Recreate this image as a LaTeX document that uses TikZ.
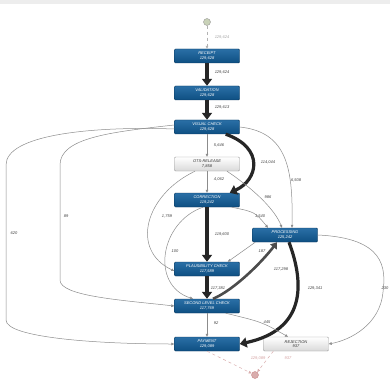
\documentclass[tikz,border=0pt]{standalone}
\usepackage{fontspec}
\setmainfont{Liberation Sans}
\usetikzlibrary{arrows.meta,shapes.geometric}
\definecolor{boxblue}{HTML}{0E4F82}
\definecolor{boxblueL}{HTML}{2A6FA6}
\definecolor{pinkend}{HTML}{C98A8A}
\definecolor{startc}{HTML}{C9D2B8}
\tikzset{
  act/.style={draw=boxblue!70!black, top color=boxblueL, bottom color=boxblue, rounded corners=1pt,
    minimum width=65pt, minimum height=14pt, inner sep=0pt, text=white,
    font=\fontsize{4}{4.6}\selectfont\itshape, align=center},
  gact/.style={act, draw=black!40, top color=white, bottom color=black!15, text=black!80},
  thin/.style={draw=black!45, line width=0.5pt, -{Triangle[length=3pt,width=2.6pt]}},
  thick/.style={draw=black!85, line width=3.2pt, -{Triangle[length=7pt,width=10pt]}},
  mid/.style={draw=black!70, line width=2.6pt, -{Triangle[length=6pt,width=8pt]}},
  lab/.style={font=\fontsize{4}{4}\selectfont\itshape, text=black!75, inner sep=0.5pt},
  flab/.style={lab, text=black!35},
  plab/.style={lab, text=pinkend!80},
}
\begin{document}
\begin{tikzpicture}[x=1pt,y=-1pt]
\path[fill=white] (0,0) rectangle (390,390);
\fill[black!7] (0,0) rectangle (390,4);
% nodes
\node[circle, draw=black!40, fill=startc, minimum size=7pt, inner sep=0pt] (start) at (207,22) {};
\node[circle, draw=pinkend, fill=pinkend!70, minimum size=7pt, inner sep=0pt] (end) at (255,375) {};
\node[act] (rec) at (207,56) {RECEIPT\\129,628};
\node[act] (val) at (207,93) {VALIDATION\\129,628};
\node[act] (vis) at (207,127) {VISUAL CHECK\\129,628};
\node[gact] (ots) at (207,164) {OTS-RELEASE\\7,858};
\node[act] (cor) at (207,200) {CORRECTION\\119,242};
\node[act] (pro) at (285,235) {PROCESSING\\125,242};
\node[act] (pla) at (207,269) {PLAUSIBILITY CHECK\\117,589};
\node[act] (sec) at (207,306) {SECOND LEVEL CHECK\\117,769};
\node[act] (pay) at (207,344) {PAYMENT\\129,089};
\node[gact] (rej) at (296,344) {REJECTION\\937};
% start / end
\draw[thin, dashed, draw=black!30] (start) -- (rec);
\node[flab] (l0) at (222,37) {129,624};
\draw[thin, dashed, draw=pinkend!70] (pay.south) -- (end);
\draw[thin, dashed, draw=pinkend!70] (rej.south west) ++(10,0) -- (end);
\node[plab] (l1) at (258,358) {129,089};
\node[plab] (l2) at (288,358) {937};
% main thick flow
\draw[thick] (rec) -- (val);
\node[lab] (l3) at (222,72) {129,624};
\draw[thick] (val) -- (vis);
\node[lab] (l4) at (222,107) {129,613};
\draw[thick] (vis.south east) ++(-14,0) .. controls (265,148) and (258,180) .. ([xshift=-10pt]cor.north east);
\node[lab] (l5) at (268,162) {114,044};
\draw[thick] (cor) -- (pla);
\node[lab] (l6) at (222,234) {119,600};
\draw[thick] (pla) -- (sec);
\node[lab] (l7) at (218,288) {117,381};
\draw[mid] (sec.north) ++(6,0) .. controls (234,290) and (262,262) .. ([xshift=-8pt]pro.south);
\node[lab] (l8) at (281,269) {117,298};
\draw[thick] (pro.south) ++(4,0) .. controls (305,285) and (305,330) .. (pay.east);
\node[lab] (l9) at (315,288) {129,341};
% thin edges
\draw[thin] (vis) -- (ots);
\node[lab] (l10) at (219,145) {5,646};
\draw[thin] (ots) -- (cor);
\node[lab] (l11) at (219,179) {4,062};
\draw[thin] (vis.east) .. controls (288,132) and (293,170) .. ([xshift=7pt]pro.north);
\node[lab] (l12) at (296,180) {6,508};
\draw[thin] ([yshift=-2pt]vis.west) .. controls (90,126) and (6,135) .. (6,165) -- (6,320) .. controls (6,338) and (100,344) .. (pay.west);
\node[lab] (l13) at (14,233) {620};
\draw[thin] ([yshift=2pt]vis.west) .. controls (110,132) and (60,138) .. (60,165) -- (60,280) .. controls (60,296) and (120,300) .. (sec.west);
\node[lab] (l14) at (66,216) {89};
\draw[thin] ([xshift=-12pt]ots.south) .. controls (145,195) and (130,250) .. ([yshift=-2pt]pla.west);
\node[lab] (l15) at (167,216) {1,759};
\draw[thin] ([xshift=20pt]ots.south) .. controls (255,190) and (275,210) .. ([xshift=-3pt]pro.north);
\node[lab] (l16) at (268,197) {986};
\draw[thin] ([xshift=-8pt]cor.south east) .. controls (255,212) .. ([xshift=-17pt]pro.north);
\node[lab] (l17) at (260,216) {1,540};
\draw[thin] ([xshift=-4pt]cor.south) .. controls (160,222) and (150,285) .. ([xshift=-14pt]sec.north);
\node[lab] (l18) at (175,251) {100};
\draw[thin] ([xshift=3pt]pro.south west) -- ([xshift=-12pt]pla.north east);
\node[lab] (l19) at (262,251) {187};
\draw[thin] (sec) -- (pay);
\node[lab] (l20) at (216,323) {92};
\draw[thin] ([xshift=-14pt]sec.south east) .. controls (262,322) .. ([xshift=-8pt]rej.north);
\node[lab] (l21) at (267,322) {445};
\draw[thin] (pro.east) .. controls (385,238) and (386,268) .. (383,292) .. controls (380,325) and (350,340) .. (rej.east);
\node[lab] (l22) at (385,288) {230};
\end{tikzpicture}
\end{document}
